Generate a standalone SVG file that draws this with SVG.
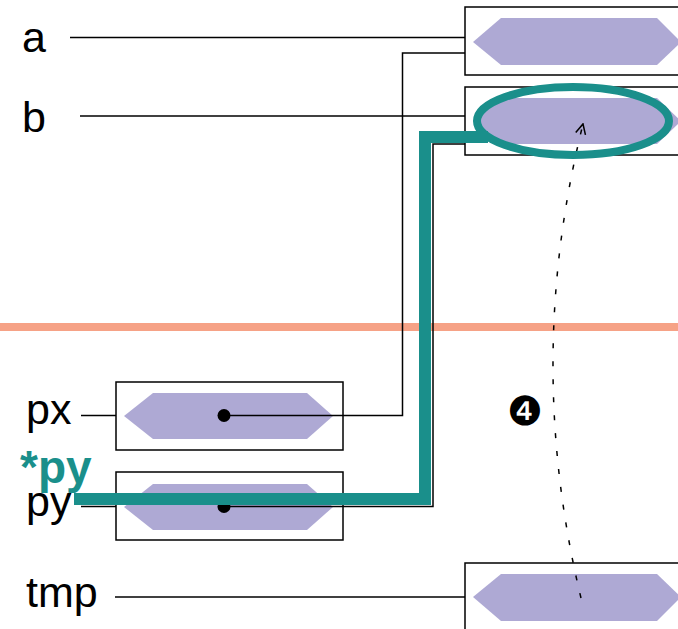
<svg xmlns="http://www.w3.org/2000/svg" width="678" height="629" viewBox="0 0 678 629">
<defs>
<style>
.box{fill:#fff;stroke:#000;stroke-width:1.5}
.hex{fill:#aea9d4}
.ln{fill:none;stroke:#000;stroke-width:1.5}
.lbl{font-family:"Liberation Sans",Arial,sans-serif;font-size:43px;fill:#000}
.teal{fill:none;stroke:#1a8f8b;stroke-width:12}
</style>
<marker id="arr" viewBox="0 0 12 12" refX="11" refY="6" markerWidth="12" markerHeight="12" markerUnits="userSpaceOnUse" orient="auto">
<path d="M1,1 L11,6 L1,11" fill="none" stroke="#000" stroke-width="1.5"/>
</marker>
</defs>
<rect width="678" height="629" fill="#fff"/>
<line x1="0" y1="327" x2="678" y2="327" stroke="#f6a286" stroke-width="8"/>
<g id="node-a">
<rect class="box" x="465" y="7" width="230" height="68"/>
<polygon class="hex" points="473,42 501,18 657,18 681,42 657,65 501,65"/>
<text class="lbl" x="22" y="52">a</text>
</g>
<g id="node-b">
<rect class="box" x="465" y="87" width="230" height="68"/>
<polygon class="hex" points="473,121 501,98 657,98 681,121 657,144 501,144"/>
<text class="lbl" x="22" y="132">b</text>
</g>
<g id="node-px">
<rect class="box" x="116" y="382" width="227" height="68"/>
<polygon class="hex" points="124,416 153,393 307,393 333,416 307,439 153,439"/>
<text class="lbl" x="26" y="424">px</text>
</g>
<g id="node-py">
<rect class="box" x="116" y="472" width="227" height="68"/>
<polygon class="hex" points="124,507 153,484 307,484 333,507 307,530 153,530"/>
<text class="lbl" x="26" y="516">py</text>
</g>
<g id="node-tmp">
<rect class="box" x="465" y="563" width="230" height="68"/>
<polygon class="hex" points="473,597 501,574 657,574 681,597 657,621 501,621"/>
<text class="lbl" x="26" y="607">tmp</text>
</g>
<g id="connectors">
<line class="ln" x1="70" y1="37.5" x2="465" y2="37.5"/>
<line class="ln" x1="80" y1="116" x2="465" y2="116"/>
<line class="ln" x1="81" y1="415.5" x2="116" y2="415.5"/>
<line class="ln" x1="81" y1="506.5" x2="116" y2="506.5"/>
<line class="ln" x1="115" y1="597" x2="465" y2="597"/>
<polyline class="ln" points="224,415.5 402.5,415.5 402.5,53 465,53"/>
<polyline class="ln" points="224,506.5 433,506.5 433,144 465,144"/>
<circle cx="224" cy="415.5" r="6.5" fill="#000"/>
<circle cx="224" cy="506.5" r="6.5" fill="#000"/>
<path d="M581,598 Q524,361 583,124" fill="none" stroke="#000" stroke-width="1.5" stroke-dasharray="5 13" marker-end="url(#arr)"/>
</g>
<g id="highlight">
<ellipse cx="573" cy="121" rx="96" ry="34" fill="none" stroke="#1a8f8b" stroke-width="8"/>
<polyline class="teal" points="74,499 425,499 425,137 488,137"/>
<text x="20" y="483" font-family="Liberation Sans,Arial,sans-serif" font-size="46" font-weight="bold" fill="#1a8f8b">*py</text>
</g>
<text x="525" y="425" font-family="DejaVu Sans,sans-serif" font-size="40" text-anchor="middle" fill="#000">❹</text>
</svg>
